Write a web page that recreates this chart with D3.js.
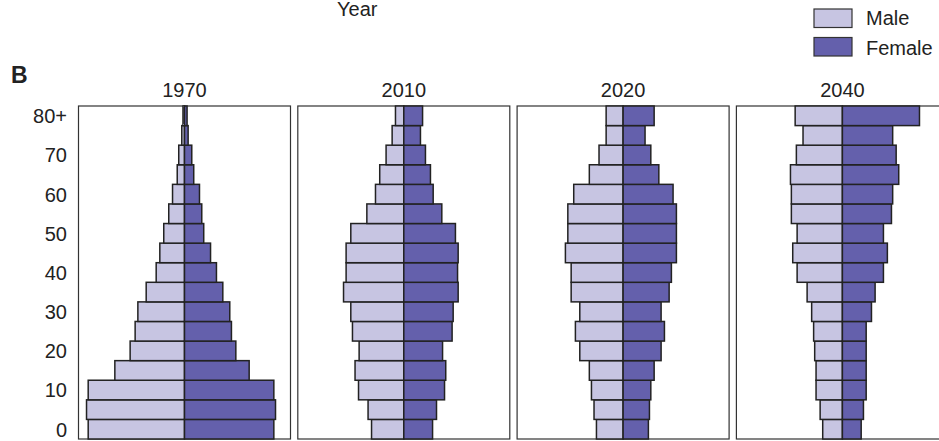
<!DOCTYPE html>
<html>
<head>
<meta charset="utf-8">
<script src="https://cdn.jsdelivr.net/npm/d3@7/dist/d3.min.js"></script>
<style>
  html, body { margin: 0; padding: 0; background: #fff; }
  svg { display: block; font-family: "Liberation Sans", Arial, Helvetica, sans-serif; }
</style>
</head>
<body>
<svg id="chart" width="939" height="441"></svg>
<script>
// Age groups (bottom to top)
const ageGroups = ["0-4","5-9","10-14","15-19","20-24","25-29","30-34","35-39","40-44","45-49","50-54","55-59","60-64","65-69","70-74","75-79","80+"];
const ageTickGroups = ["0-4","10-14","20-24","30-34","40-44","50-54","60-64","70-74","80+"];
const ageTickLabels = ["0","10","20","30","40","50","60","70","80+"];
const years = ["1970","2010","2020","2040"];

// Percent of population by age group (0-4 upward)
const male1970   = [6.36,6.47,6.36,4.60,3.59,3.26,3.08,2.53,1.87,1.63,1.37,1.04,0.79,0.48,0.38,0.18,0.10];
const female1970 = [5.90,6.01,5.90,4.27,3.39,3.10,2.99,2.53,2.11,1.72,1.27,1.14,0.99,0.61,0.48,0.24,0.17];
const male2010   = [2.13,2.36,2.99,3.22,2.95,3.39,3.50,3.98,3.81,3.81,3.50,2.44,1.87,1.59,1.17,0.77,0.55];
const female2010 = [1.90,2.16,2.69,2.77,2.56,3.19,3.26,3.59,3.55,3.59,3.41,2.51,1.94,1.76,1.43,1.10,1.24];
const male2020   = [1.76,1.92,2.09,2.23,2.86,3.15,2.86,3.43,3.43,3.81,3.65,3.65,3.26,2.23,1.59,1.12,1.12];
const female2020 = [1.67,1.74,1.83,2.05,2.51,2.73,2.51,3.04,3.19,3.52,3.52,3.52,3.30,2.36,1.83,1.45,2.05];
const male2040   = [1.30,1.47,1.74,1.74,1.83,1.90,2.03,2.33,2.99,3.28,2.99,3.37,3.37,3.43,3.04,2.60,3.12];
const female2040 = [1.24,1.39,1.57,1.57,1.57,1.57,1.92,2.16,2.71,2.97,2.71,3.24,3.32,3.72,3.55,3.32,5.09];

const maleSeries = [male1970, male2010, male2020, male2040];
const femaleSeries = [female1970, female2010, female2020, female2040];
const legendLabels = ["Male", "Female"];

const colMale = "#c7c5e2";
const colFemale = "#6460ac";
const barStroke = "#222";

const svg = d3.select("#chart");

const plotTop = 106, plotBottom = 439;
const panelW = 212, panelStep = 219.3, firstLeft = 78.5;
const fs = 20;

const y = d3.scaleBand().domain(ageGroups).range([plotBottom, plotTop]).paddingInner(0).paddingOuter(0);

// Header texts
svg.append("text").attr("x", 337).attr("y", 16).attr("font-size", fs).attr("fill", "#222").text("Year");
svg.append("text").attr("x", 11).attr("y", 83).attr("font-size", 23).attr("font-weight", "bold").attr("fill", "#222").text("B");

// Legend
const legend = svg.append("g");
[colMale, colFemale].forEach((c, i) => {
  legend.append("rect").attr("x", 814).attr("y", 9 + i * 28.5).attr("width", 38).attr("height", 18.5)
    .attr("fill", c).attr("stroke", "#333").attr("stroke-width", 1.2);
  legend.append("text").attr("x", 866).attr("y", 25 + i * 30).attr("font-size", fs).attr("fill", "#222").text(legendLabels[i]);
});

// Y axis labels
const yAxis = d3.axisLeft(y).tickValues(ageTickGroups).tickSize(0).tickPadding(0)
  .tickFormat(d => ageTickLabels[ageTickGroups.indexOf(d)]);
const ga = svg.append("g").attr("transform", `translate(67,1)`).call(yAxis);
ga.select(".domain").remove();
ga.selectAll("text").attr("font-size", fs).attr("fill", "#222").attr("font-family", "'Liberation Sans', Arial, sans-serif");

years.forEach((yr, i) => {
  const x0 = firstLeft + i * panelStep;
  const x = d3.scaleLinear().domain([-7, 7]).range([x0, x0 + panelW]);
  const g = svg.append("g");

  g.append("text").attr("x", x(0)).attr("y", 97).attr("text-anchor", "middle")
    .attr("font-size", fs).attr("fill", "#222").text(yr);

  g.append("rect").attr("x", x0).attr("y", plotTop).attr("width", panelW).attr("height", plotBottom - plotTop)
    .attr("fill", "none").attr("stroke", "#333").attr("stroke-width", 1.2);

  const m = maleSeries[i], f = femaleSeries[i];
  g.selectAll(".m").data(ageGroups).enter().append("rect")
    .attr("x", (d, j) => x(-m[j])).attr("y", d => y(d))
    .attr("width", (d, j) => x(0) - x(-m[j])).attr("height", y.bandwidth())
    .attr("fill", colMale).attr("stroke", barStroke).attr("stroke-width", 1.5);
  g.selectAll(".f").data(ageGroups).enter().append("rect")
    .attr("x", x(0)).attr("y", d => y(d))
    .attr("width", (d, j) => x(f[j]) - x(0)).attr("height", y.bandwidth())
    .attr("fill", colFemale).attr("stroke", barStroke).attr("stroke-width", 1.5);
});
</script>
</body>
</html>
